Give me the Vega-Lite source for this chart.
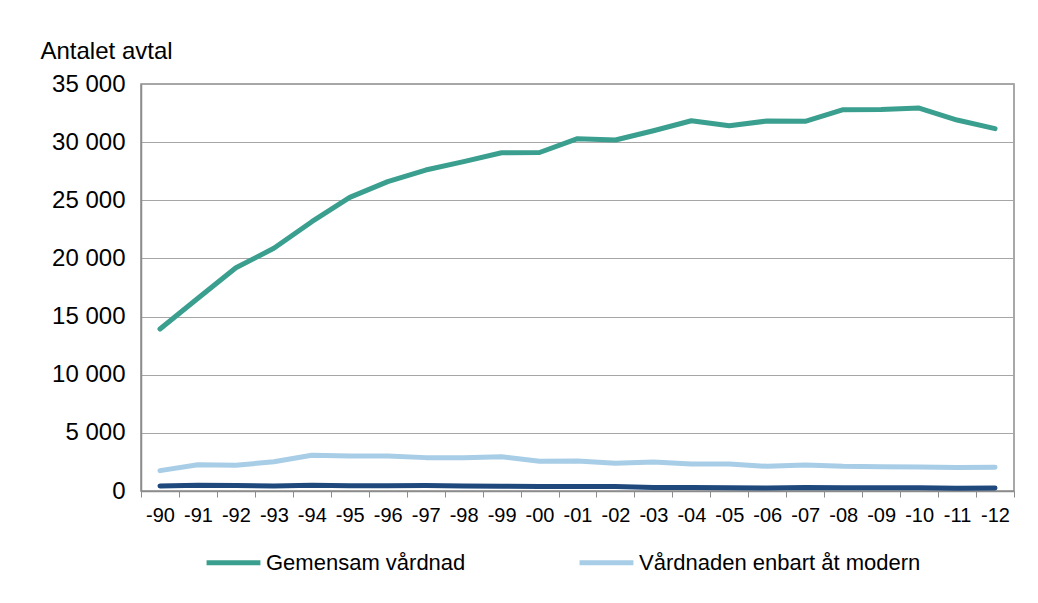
{
  "$schema": "https://vega.github.io/schema/vega-lite/v6.json",
  "autosize": "none",
  "width": 873,
  "height": 407,
  "padding": {"left": 141, "top": 84, "right": 24, "bottom": 112},
  "background": "white",
  "config": {
    "font": "Liberation Sans",
    "view": {"stroke": "#8c8c8c", "strokeWidth": 1.5}
  },
  "datasets": {
    "d": [
      {"ar": "-90", "serie": "Gemensam vårdnad", "v": 13930},
      {"ar": "-91", "serie": "Gemensam vårdnad", "v": 16570},
      {"ar": "-92", "serie": "Gemensam vårdnad", "v": 19200},
      {"ar": "-93", "serie": "Gemensam vårdnad", "v": 20870},
      {"ar": "-94", "serie": "Gemensam vårdnad", "v": 23160},
      {"ar": "-95", "serie": "Gemensam vårdnad", "v": 25250},
      {"ar": "-96", "serie": "Gemensam vårdnad", "v": 26600},
      {"ar": "-97", "serie": "Gemensam vårdnad", "v": 27600},
      {"ar": "-98", "serie": "Gemensam vårdnad", "v": 28320},
      {"ar": "-99", "serie": "Gemensam vårdnad", "v": 29090},
      {"ar": "-00", "serie": "Gemensam vårdnad", "v": 29110},
      {"ar": "-01", "serie": "Gemensam vårdnad", "v": 30300},
      {"ar": "-02", "serie": "Gemensam vårdnad", "v": 30180},
      {"ar": "-03", "serie": "Gemensam vårdnad", "v": 30980},
      {"ar": "-04", "serie": "Gemensam vårdnad", "v": 31840},
      {"ar": "-05", "serie": "Gemensam vårdnad", "v": 31410},
      {"ar": "-06", "serie": "Gemensam vårdnad", "v": 31820},
      {"ar": "-07", "serie": "Gemensam vårdnad", "v": 31790},
      {"ar": "-08", "serie": "Gemensam vårdnad", "v": 32790},
      {"ar": "-09", "serie": "Gemensam vårdnad", "v": 32800},
      {"ar": "-10", "serie": "Gemensam vårdnad", "v": 32930},
      {"ar": "-11", "serie": "Gemensam vårdnad", "v": 31900},
      {"ar": "-12", "serie": "Gemensam vårdnad", "v": 31160},
      {"ar": "-90", "serie": "Vårdnaden enbart åt modern", "v": 1750},
      {"ar": "-91", "serie": "Vårdnaden enbart åt modern", "v": 2260},
      {"ar": "-92", "serie": "Vårdnaden enbart åt modern", "v": 2210},
      {"ar": "-93", "serie": "Vårdnaden enbart åt modern", "v": 2520},
      {"ar": "-94", "serie": "Vårdnaden enbart åt modern", "v": 3070},
      {"ar": "-95", "serie": "Vårdnaden enbart åt modern", "v": 3010},
      {"ar": "-96", "serie": "Vårdnaden enbart åt modern", "v": 3000},
      {"ar": "-97", "serie": "Vårdnaden enbart åt modern", "v": 2870},
      {"ar": "-98", "serie": "Vårdnaden enbart åt modern", "v": 2870},
      {"ar": "-99", "serie": "Vårdnaden enbart åt modern", "v": 2940},
      {"ar": "-00", "serie": "Vårdnaden enbart åt modern", "v": 2550},
      {"ar": "-01", "serie": "Vårdnaden enbart åt modern", "v": 2580},
      {"ar": "-02", "serie": "Vårdnaden enbart åt modern", "v": 2380},
      {"ar": "-03", "serie": "Vårdnaden enbart åt modern", "v": 2490},
      {"ar": "-04", "serie": "Vårdnaden enbart åt modern", "v": 2320},
      {"ar": "-05", "serie": "Vårdnaden enbart åt modern", "v": 2320},
      {"ar": "-06", "serie": "Vårdnaden enbart åt modern", "v": 2120},
      {"ar": "-07", "serie": "Vårdnaden enbart åt modern", "v": 2240},
      {"ar": "-08", "serie": "Vårdnaden enbart åt modern", "v": 2120},
      {"ar": "-09", "serie": "Vårdnaden enbart åt modern", "v": 2090},
      {"ar": "-10", "serie": "Vårdnaden enbart åt modern", "v": 2070},
      {"ar": "-11", "serie": "Vårdnaden enbart åt modern", "v": 2020},
      {"ar": "-12", "serie": "Vårdnaden enbart åt modern", "v": 2050},
      {"ar": "-90", "serie": "Vårdnaden enbart åt fadern", "v": 440},
      {"ar": "-91", "serie": "Vårdnaden enbart åt fadern", "v": 500},
      {"ar": "-92", "serie": "Vårdnaden enbart åt fadern", "v": 480},
      {"ar": "-93", "serie": "Vårdnaden enbart åt fadern", "v": 430},
      {"ar": "-94", "serie": "Vårdnaden enbart åt fadern", "v": 500},
      {"ar": "-95", "serie": "Vårdnaden enbart åt fadern", "v": 460},
      {"ar": "-96", "serie": "Vårdnaden enbart åt fadern", "v": 460},
      {"ar": "-97", "serie": "Vårdnaden enbart åt fadern", "v": 470},
      {"ar": "-98", "serie": "Vårdnaden enbart åt fadern", "v": 440},
      {"ar": "-99", "serie": "Vårdnaden enbart åt fadern", "v": 410},
      {"ar": "-00", "serie": "Vårdnaden enbart åt fadern", "v": 390},
      {"ar": "-01", "serie": "Vårdnaden enbart åt fadern", "v": 390},
      {"ar": "-02", "serie": "Vårdnaden enbart åt fadern", "v": 380},
      {"ar": "-03", "serie": "Vårdnaden enbart åt fadern", "v": 300},
      {"ar": "-04", "serie": "Vårdnaden enbart åt fadern", "v": 300},
      {"ar": "-05", "serie": "Vårdnaden enbart åt fadern", "v": 270},
      {"ar": "-06", "serie": "Vårdnaden enbart åt fadern", "v": 250},
      {"ar": "-07", "serie": "Vårdnaden enbart åt fadern", "v": 300},
      {"ar": "-08", "serie": "Vårdnaden enbart åt fadern", "v": 270},
      {"ar": "-09", "serie": "Vårdnaden enbart åt fadern", "v": 270},
      {"ar": "-10", "serie": "Vårdnaden enbart åt fadern", "v": 270},
      {"ar": "-11", "serie": "Vårdnaden enbart åt fadern", "v": 240},
      {"ar": "-12", "serie": "Vårdnaden enbart åt fadern", "v": 260}
    ]
  },
  "data": {"name": "d"},
  "mark": {"type": "line", "strokeWidth": 5, "strokeCap": "round", "strokeJoin": "round"},
  "encoding": {
    "x": {
      "field": "ar",
      "type": "ordinal",
      "sort": null,
      "bandPosition": 0.5,
      "scale": {"type": "band", "paddingInner": 0, "paddingOuter": 0},
      "axis": {
        "title": null,
        "labelAngle": 0,
        "labelFontSize": 20,
        "labelColor": "black",
        "labelPadding": 8,
        "tickBand": "extent",
        "tickSize": 6,
        "tickColor": "#8c8c8c",
        "domainColor": "#8c8c8c",
        "domainWidth": 1.5,
        "grid": false
      }
    },
    "y": {
      "field": "v",
      "type": "quantitative",
      "scale": {"domain": [0, 35000], "nice": false},
      "axis": {
        "values": [0, 5000, 10000, 15000, 20000, 25000, 30000, 35000],
        "labelExpr": "replace(format(datum.value, ','), ',', ' ')",
        "labelFontSize": 24,
        "labelColor": "black",
        "labelPadding": 16,
        "ticks": false,
        "domainColor": "#8c8c8c",
        "domainWidth": 1.5,
        "grid": true,
        "gridColor": "#a6a6a6",
        "gridWidth": 1,
        "title": "Antalet avtal",
        "titleAngle": 0,
        "titleAlign": "left",
        "titleBaseline": "alphabetic",
        "titleX": -101,
        "titleY": -26,
        "titleFontSize": 24,
        "titleFontWeight": "normal",
        "titleColor": "black"
      }
    },
    "color": {
      "field": "serie",
      "type": "nominal",
      "scale": {
        "domain": ["Gemensam vårdnad", "Vårdnaden enbart åt modern", "Vårdnaden enbart åt fadern"],
        "range": ["#3a9f8e", "#a8cde6", "#1f497d"]
      },
      "legend": {
        "title": null,
        "values": ["Gemensam vårdnad", "Vårdnaden enbart åt modern"],
        "orient": "none",
        "direction": "horizontal",
        "legendX": 63,
        "legendY": 449,
        "symbolType": "stroke",
        "symbolSize": 2900,
        "symbolStrokeWidth": 5,
        "labelFontSize": 22,
        "labelColor": "black",
        "labelOffset": 3,
        "columnPadding": 103,
        "labelLimit": 400
      }
    }
  }
}
